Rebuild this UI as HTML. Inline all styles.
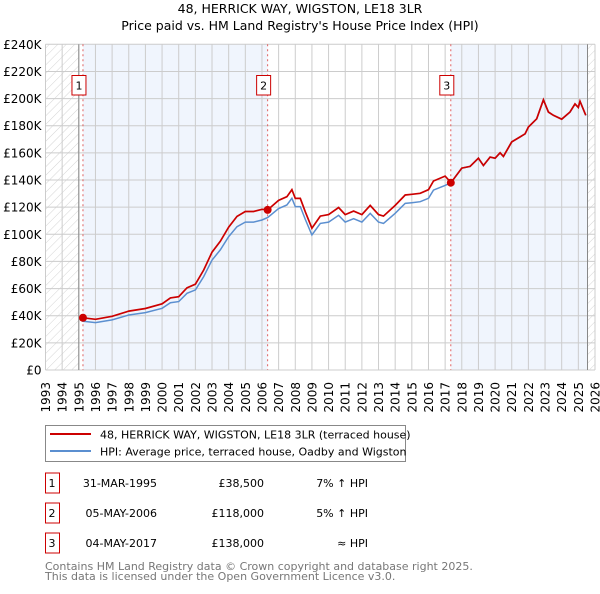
<!DOCTYPE html>
<html><head><meta charset="utf-8"><style>
body{margin:0;background:#fff;width:600px;height:590px;overflow:hidden;font-family:"DejaVu Sans","Liberation Sans",sans-serif}
svg text{font-family:"DejaVu Sans","Liberation Sans",sans-serif}
</style></head><body>
<svg id="c" width="600" height="590">
<defs><pattern id="hatch" width="6" height="6" patternUnits="userSpaceOnUse" patternTransform="rotate(45)"><line x1="0" y1="0" x2="0" y2="6" stroke="#d4d4d4" stroke-width="1"/></pattern></defs>
<text x="300" y="13" text-anchor="middle" font-size="12.5" fill="#000">48, HERRICK WAY, WIGSTON, LE18 3LR</text>
<text x="300" y="30" text-anchor="middle" font-size="12.5" fill="#000">Price paid vs. HM Land Registry's House Price Index (HPI)</text>
<g id="plot"></g>
<g>
<rect x="45.5" y="425.5" width="360" height="36" fill="#fff" stroke="#888"/>
<line x1="50" y1="434" x2="91" y2="434" stroke="#cc0000" stroke-width="2"/>
<text x="100" y="438.5" font-size="11">48, HERRICK WAY, WIGSTON, LE18 3LR (terraced house)</text>
<line x1="50" y1="451" x2="91" y2="451" stroke="#5b8fd0" stroke-width="2"/>
<text x="100" y="455.5" font-size="11">HPI: Average price, terraced house, Oadby and Wigston</text>
</g>
<g id="table"></g>
<text x="45" y="570" font-size="11" fill="#777">Contains HM Land Registry data © Crown copyright and database right 2025.</text>
<text x="45" y="580" font-size="11" fill="#777">This data is licensed under the Open Government Licence v3.0.</text>
</svg>
<script>
const hpiYears=[1995.2,1996,1997,1998,1999,2000,2000.5,2001,2001.5,2002,2002.5,2003,2003.5,2004,2004.5,2005,2005.5,2006,2006.35,2007,2007.5,2007.8,2008,2008.3,2008.6,2009,2009.5,2010,2010.6,2011,2011.5,2012,2012.5,2013,2013.3,2014,2014.6,2015,2015.5,2016,2016.3,2017,2017.35,2018,2018.5,2019,2019.3,2019.7,2020,2020.3,2020.5,2021,2021.5,2021.8,2022,2022.5,2022.9,2023.2,2023.5,2024,2024.5,2024.8,2025,2025.1,2025.45];
const hpiValues=[36000,34900,36900,40500,42300,45500,49600,50400,56500,59000,68800,81000,88500,98300,105600,109000,109000,110500,112400,119000,121600,126500,120400,120400,111000,99500,108000,109000,114000,109000,111500,109000,115500,109000,108000,115500,122800,123300,124000,126500,132600,136000,138000,148700,150000,156000,150600,156800,156000,160000,157300,168000,171700,174000,179000,185000,199000,190000,187600,184700,190000,196000,193400,198000,187600];
const saleYears=[1995.25,2006.34,2017.34];
const salePrices=[38500,118000,138000];
const saleLabels=["1","2","3"];
const saleDates=["31-MAR-1995","05-MAY-2006","04-MAY-2017"];
const salePriceText=["£38,500","£118,000","£138,000"];
const saleHpiText=["7% ↑ HPI","5% ↑ HPI","≈ HPI"];
const yTicks=[0,20000,40000,60000,80000,100000,120000,140000,160000,180000,200000,220000,240000];
const xTicks=[1993,1994,1995,1996,1997,1998,1999,2000,2001,2002,2003,2004,2005,2006,2007,2008,2009,2010,2011,2012,2013,2014,2015,2016,2017,2018,2019,2020,2021,2022,2023,2024,2025,2026];

const NS="http://www.w3.org/2000/svg";
const X0=45.5,X1=595,Y0=370,Y1=44.3,XMIN=1993,XMAX=2026,YMAX=240000,END=2025.55;
const x=v=>X0+(v-XMIN)/(XMAX-XMIN)*(X1-X0);
const y=v=>Y0-v/YMAX*(Y0-Y1);
const plot=document.getElementById('plot');
function mk(tag,attrs,parent){const e=document.createElementNS(NS,tag);for(const k in attrs)e.setAttribute(k,attrs[k]);(parent||plot).appendChild(e);return e;}
function hpiAt(t){for(let i=1;i<hpiYears.length;i++){if(t<=hpiYears[i]){const f=(t-hpiYears[i-1])/(hpiYears[i]-hpiYears[i-1]);return hpiValues[i-1]+f*(hpiValues[i]-hpiValues[i-1]);}}return hpiValues[hpiValues.length-1];}

let r=mk('rect',{x:x(saleYears[0]),y:Y1,width:x(saleYears[1])-x(saleYears[0]),height:Y0-Y1,fill:'#f0f5fd'});


r=mk('rect',{x:x(saleYears[2]),y:Y1,width:x(END)-x(saleYears[2]),height:Y0-Y1,fill:'#f0f5fd'});


r=mk('rect',{x:X0,y:Y1,width:x(1995)-X0,height:Y0-Y1,fill:'url(#hatch)'});


r=mk('rect',{x:x(END),y:Y1,width:X1-x(END),height:Y0-Y1,fill:'url(#hatch)'});



yTicks.forEach(v=>{
 const l=mk('line',{x1:X0,x2:X1,y1:y(v),y2:y(v),stroke:'#ccc','stroke-width':1});
 
 
 const t=mk('text',{x:X0-4,y:y(v)+4.5,'text-anchor':'end','font-size':12});
 t.textContent=v===0?'£0':'£'+(v/1000)+'K';
 
 
});
xTicks.forEach(v=>{
 const l=mk('line',{x1:x(v),x2:x(v),y1:Y1,y2:Y0,stroke:'#ccc','stroke-width':1});
 
 
 const t=mk('text',{x:0,y:0,'text-anchor':'end','font-size':12,transform:`translate(${x(v)+4.5},382) rotate(-90)`});
 t.textContent=v;
 
 
});
let b=mk('line',{x1:x(1995),x2:x(1995),y1:Y1,y2:Y0,stroke:'#888'});


b=mk('line',{x1:x(END),x2:x(END),y1:Y1,y2:Y0,stroke:'#888'});



saleYears.forEach((s,i)=>{
 const l=mk('line',{x1:x(s),x2:x(s),y1:Y1,y2:Y0,stroke:'#e06060','stroke-dasharray':'2,3','stroke-width':1});
 
 
 const bx=mk('rect',{x:x(s)-11,y:75.5,width:14,height:19.5,fill:'#fff',stroke:'#cc0000'});
 
 
 const t=mk('text',{x:x(s)-4,y:89.5,'text-anchor':'middle','font-size':11});
 t.textContent=saleLabels[i];
 
 
});

let d='';hpiYears.forEach((t,i)=>{d+=(i?'L':'M')+x(t).toFixed(1)+','+y(hpiValues[i]).toFixed(1);});
const hl=mk('path',{d:d,fill:'none',stroke:'#5b8fd0','stroke-width':1.5});



let pd='';
hpiYears.forEach((t,i)=>{
 let k=-1;for(let j=0;j<saleYears.length;j++)if(t>=saleYears[j]-0.06)k=j;
 if(k<0)k=0;
 const v=hpiValues[i]*salePrices[k]/hpiAt(saleYears[k]);
 pd+=(i?'L':'M')+x(t).toFixed(1)+','+y(v).toFixed(1);
});
const pl=mk('path',{d:pd,fill:'none',stroke:'#cc0000','stroke-width':1.7});


saleYears.forEach((s,i)=>{
 const c=mk('circle',{cx:x(s),cy:y(salePrices[i]),r:4,fill:'#cc0000'});
 
 
});

const tb=document.getElementById('table');
saleYears.forEach((s,i)=>{
 const cy=483+i*30;
 const bx=mk('rect',{x:45.5,y:cy-10,width:14,height:20,fill:'#fff',stroke:'#cc0000'},tb);
 
 
 const cells=[[52,'middle',saleLabels[i]],[157,'end',saleDates[i]],[264,'end',salePriceText[i]],[368,'end',saleHpiText[i]]];
 cells.forEach(c=>{const t=mk('text',{x:c[0],y:cy+4,'text-anchor':c[1],'font-size':11},tb);t.textContent=c[2];
  
  });
});
</script>
</body></html>
